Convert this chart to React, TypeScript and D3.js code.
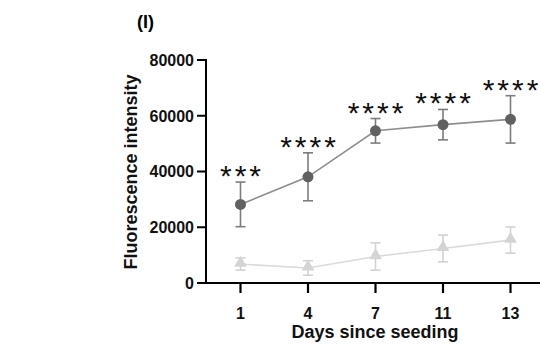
import React from "react";
import * as d3 from "d3";

const days = ["1", "4", "7", "11", "13"];
const darkMean = [28200, 38100, 54600, 56800, 58700];
const darkSD = [8000, 8600, 4400, 5450, 8500];
const lightMean = [6800, 5400, 9500, 12400, 15400];
const lightSD = [2200, 2600, 4900, 4800, 4700];
const sigLabels = ["***", "****", "****", "****", "****"];
const yTicks = [0, 20000, 40000, 60000, 80000];

const FONT = "'Liberation Sans', Arial, sans-serif";

export default function App() {
  const W = 540, H = 347;
  const axisX = 206, axisY = 283, topY = 60;
  const x = d3.scalePoint<string>().domain(days).range([240.5, 510.5]);
  const y = d3.scaleLinear().domain([0, 80000]).range([axisY, topY]);

  const lineGen = d3
    .line<number>()
    .x((_, i) => x(days[i]) as number)
    .y((d) => y(d));

  const tri = d3.symbol().type(d3.symbolTriangle).size(70)() as string;

  const errBars = (means: number[], sds: number[], color: string, key: string) =>
    means.map((m, i) => {
      const cx = x(days[i]) as number;
      const t = y(m + sds[i]);
      const b = y(Math.max(0, m - sds[i]));
      return (
        <g key={key + i} stroke={color} strokeWidth={1.6}>
          <line x1={cx} x2={cx} y1={t} y2={b} />
          <line x1={cx - 5} x2={cx + 5} y1={t} y2={t} />
          <line x1={cx - 5} x2={cx + 5} y1={b} y2={b} />
        </g>
      );
    });

  return (
    <svg
      width={W}
      height={H}
      style={{ position: "absolute", left: 0, top: 0, background: "#fff" }}
      fontFamily={FONT}
    >
      <text x={137} y={28} fontSize={18} fontWeight="bold" fill="#000">
        (I)
      </text>

      {/* light series */}
      <path d={lineGen(lightMean) as string} fill="none" stroke="#dadada" strokeWidth={1.6} />
      {errBars(lightMean, lightSD, "#d2d2d2", "l")}
      {lightMean.map((m, i) => (
        <path
          key={"t" + i}
          d={tri}
          transform={`translate(${x(days[i])},${y(m) - 1})`}
          fill="#d4d4d4"
        />
      ))}

      {/* dark series */}
      <path d={lineGen(darkMean) as string} fill="none" stroke="#8e8e8e" strokeWidth={1.6} />
      {errBars(darkMean, darkSD, "#7c7c7c", "d")}
      {darkMean.map((m, i) => (
        <circle key={"c" + i} cx={x(days[i])} cy={y(m)} r={5.5} fill="#616161" />
      ))}

      {/* significance */}
      {sigLabels.map((s, i) => (
        <text
          key={"s" + i}
          x={(x(days[i]) as number) + 1.5}
          y={y(darkMean[i] + darkSD[i]) - 13 + 17}
          fontSize={30}
          letterSpacing={3}
          textAnchor="middle"
          fill="#111"
        >
          {s}
        </text>
      ))}

      {/* y axis */}
      <line x1={axisX} x2={axisX} y1={topY - 1} y2={axisY + 1} stroke="#000" strokeWidth={2} />
      {yTicks.map((t) => (
        <g key={"yt" + t}>
          <line x1={axisX - 9} x2={axisX} y1={y(t)} y2={y(t)} stroke="#000" strokeWidth={2} />
          <text
            x={axisX - 12}
            y={y(t)}
            dy="0.36em"
            textAnchor="end"
            fontSize={16}
            fontWeight="bold"
            fill="#111"
          >
            {t}
          </text>
        </g>
      ))}
      <text
        transform={`translate(137,172) rotate(-90)`}
        textAnchor="middle"
        fontSize={18}
        fontWeight="bold"
        fill="#111"
      >
        Fluorescence intensity
      </text>

      {/* x axis */}
      <line x1={axisX - 1} x2={W} y1={axisY} y2={axisY} stroke="#000" strokeWidth={2} />
      {days.map((d) => (
        <g key={"xt" + d}>
          <line
            x1={x(d)}
            x2={x(d)}
            y1={axisY}
            y2={axisY + 10}
            stroke="#000"
            strokeWidth={2.2}
          />
          <text
            x={x(d)}
            y={319}
            textAnchor="middle"
            fontSize={16}
            fontWeight="bold"
            fill="#111"
          >
            {d}
          </text>
        </g>
      ))}
      <text x={375} y={338} textAnchor="middle" fontSize={18} fontWeight="bold" fill="#111">
        Days since seeding
      </text>
    </svg>
  );
}
